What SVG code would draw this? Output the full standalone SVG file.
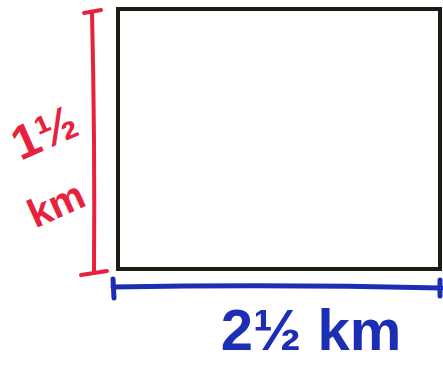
<svg xmlns="http://www.w3.org/2000/svg" width="443" height="366" viewBox="0 0 443 366">
<style>
.red{stroke:#e8223c;fill:none;stroke-width:4;stroke-linecap:round}
.blue{stroke:#1c2fb4;fill:none;stroke-width:5;stroke-linecap:round}
.rt{fill:#e8223c;font-family:"Liberation Sans",Arial,sans-serif;font-weight:bold;text-anchor:middle}
.bt{fill:#1c2fb4;font-family:"Liberation Sans",Arial,sans-serif;font-weight:bold;text-anchor:middle}
</style>
<rect width="443" height="366" fill="#ffffff"/>
<g id="field">
<rect x="118" y="9" width="322" height="260" fill="#ffffff" stroke="#1e1a14" stroke-width="4"/>
</g>
<g id="connectors">
<g id="height-dim">
<path class="red" d="M92 12 Q95 140 94 272"/>
<path class="red" d="M84 13 L101 10"/>
<path class="red" d="M81 275 L107 271"/>
</g>
<g id="width-dim">
<path class="blue" d="M113 287 Q280 284 441 288"/>
<path class="blue" d="M113 279 L114 298"/>
<path class="blue" d="M440 280 L440 296"/>
</g>
</g>
<g id="height-label">
<text class="rt" x="44" y="149" font-size="48" transform="rotate(-24 44 132)">1½</text>
<text class="rt" x="56" y="218" font-size="40" transform="rotate(-24 56 204)">km</text>
</g>
<g id="width-label">
<text class="bt" x="311" y="350" font-size="58">2½ km</text>
</g>
</svg>
